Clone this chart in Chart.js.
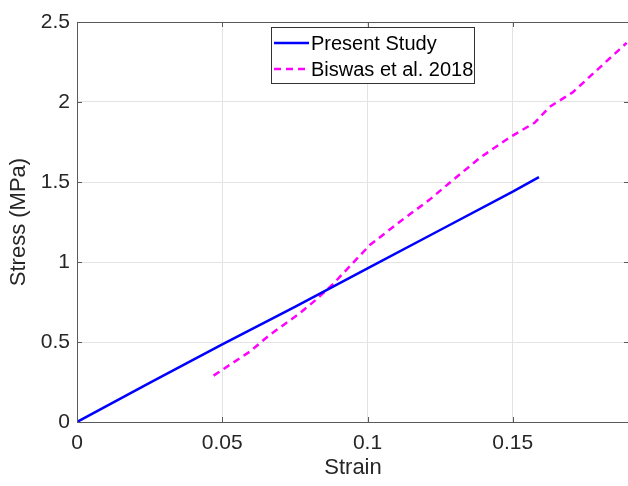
<!DOCTYPE html>
<html>
<head>
<meta charset="utf-8">
<script src="https://cdn.jsdelivr.net/npm/chart.js@4.4.1/dist/chart.umd.min.js"></script>
<style>
  html, body { margin: 0; padding: 0; background: #fff; overflow: hidden; }
  #wrap { width: 632px; height: 486px; }
</style>
</head>
<body>
<div id="wrap"><canvas id="myChart" width="632" height="486"></canvas></div>
<script>
// values
const presentStrain = [0, 0.025, 0.05, 0.075, 0.1, 0.125, 0.15, 0.159];
const presentStress = [0, 0.245, 0.485, 0.72, 0.96, 1.2, 1.44, 1.53];

const biswasStrain = [0.047, 0.0595, 0.066, 0.0767, 0.082, 0.088, 0.1008, 0.111, 0.1214, 0.1266, 0.1386, 0.149, 0.1575, 0.1627, 0.1706, 0.1892];
const biswasStress = [0.29, 0.44, 0.54, 0.68, 0.76, 0.86, 1.106, 1.25, 1.39, 1.47, 1.65, 1.78, 1.87, 1.97, 2.06, 2.37];

const xTicks = [0, 0.05, 0.1, 0.15];
const yTicks = [0, 0.5, 1, 1.5, 2, 2.5];

const seriesNames = ['Present Study', 'Biswas et al. 2018'];

const FONT = 'Liberation Sans, Arial, Helvetica, sans-serif';

function toPoints(xs, ys) {
    return xs.map((x, i) => ({ x: x, y: ys[i] }));
}

// MATLAB style box, inward ticks and legend
const framePlugin = {
    id: 'frame',
    afterDatasetsDraw(chart) {
        const ctx = chart.ctx;
        const a = chart.chartArea;
        const xs = chart.scales.x, ys = chart.scales.y;
        ctx.save();
        ctx.strokeStyle = '#5a5a5a';
        ctx.lineWidth = 1;
        ctx.strokeRect(a.left + 0.5, a.top + 0.5, a.right - a.left - 1, a.bottom - a.top);
        ctx.beginPath();
        xTicks.forEach(v => {
            const px = Math.round(xs.getPixelForValue(v)) + 0.5;
            ctx.moveTo(px, a.bottom); ctx.lineTo(px, a.bottom - 5);
            ctx.moveTo(px, a.top); ctx.lineTo(px, a.top + 5);
        });
        yTicks.forEach(v => {
            const py = Math.round(ys.getPixelForValue(v)) + 0.5;
            ctx.moveTo(a.left, py); ctx.lineTo(a.left + 5, py);
            ctx.moveTo(a.right, py); ctx.lineTo(a.right - 5, py);
        });
        ctx.stroke();

        // legend box
        const lx = 271, ly = 27, lw = 203, lh = 56;
        ctx.fillStyle = '#fff';
        ctx.fillRect(lx, ly, lw, lh);
        ctx.strokeStyle = '#333';
        ctx.strokeRect(lx + 0.5, ly + 0.5, lw, lh);
        ctx.font = '20px ' + FONT;
        ctx.textBaseline = 'middle';
        chart.data.datasets.forEach((ds, i) => {
            const yy = ly + 16 + i * 26;
            ctx.strokeStyle = ds.borderColor;
            ctx.lineWidth = 2.5;
            ctx.setLineDash(ds.borderDash || []);
            ctx.beginPath();
            ctx.moveTo(lx + 3, yy); ctx.lineTo(lx + 38, yy);
            ctx.stroke();
            ctx.setLineDash([]);
            ctx.fillStyle = '#000';
            ctx.fillText(ds.label, lx + 40, yy + 1);
        });
        ctx.restore();
    }
};

const ctx = document.getElementById('myChart');
new Chart(ctx, {
    type: 'line',
    data: {
        datasets: [
            {
                label: seriesNames[0],
                data: toPoints(presentStrain, presentStress),
                borderColor: '#0000ff',
                borderWidth: 2.5,
                pointRadius: 0,
                tension: 0
            },
            {
                label: seriesNames[1],
                data: toPoints(biswasStrain, biswasStress),
                borderColor: '#ff00ff',
                borderWidth: 2.5,
                borderDash: [7, 5],
                pointRadius: 0,
                tension: 0
            }
        ]
    },
    options: {
        responsive: false,
        animation: false,
        devicePixelRatio: 1,
        layout: { padding: { top: 22, right: 3, left: 0, bottom: 0 } },
        plugins: {
            legend: { display: false },
            tooltip: { enabled: false }
        },
        scales: {
            x: {
                type: 'linear',
                min: 0,
                max: 0.19,
                afterBuildTicks: (scale) => { scale.ticks = xTicks.map(v => ({ value: v })); },
                afterFit: (scale) => { scale.height = 64; },
                grid: { color: '#e3e3e3', drawTicks: false },
                border: { display: false },
                ticks: {
                    color: '#262626',
                    padding: 9,
                    maxRotation: 0,
                    font: { family: FONT, size: 21 },
                    callback: (v) => String(v)
                },
                title: {
                    display: true,
                    text: 'Strain',
                    color: '#262626',
                    padding: { top: 0, bottom: 5 },
                    font: { family: FONT, size: 22 }
                }
            },
            y: {
                type: 'linear',
                min: 0,
                max: 2.5,
                afterBuildTicks: (scale) => { scale.ticks = yTicks.map(v => ({ value: v })); },
                afterFit: (scale) => { scale.width = 77; },
                grid: { color: '#e3e3e3', drawTicks: false },
                border: { display: false },
                ticks: {
                    color: '#262626',
                    padding: 7,
                    font: { family: FONT, size: 21 },
                    callback: (v) => String(v)
                },
                title: {
                    display: true,
                    text: 'Stress (MPa)',
                    color: '#262626',
                    padding: { top: 6, bottom: 0 },
                    font: { family: FONT, size: 22 }
                }
            }
        }
    },
    plugins: [framePlugin]
});
</script>
</body>
</html>
